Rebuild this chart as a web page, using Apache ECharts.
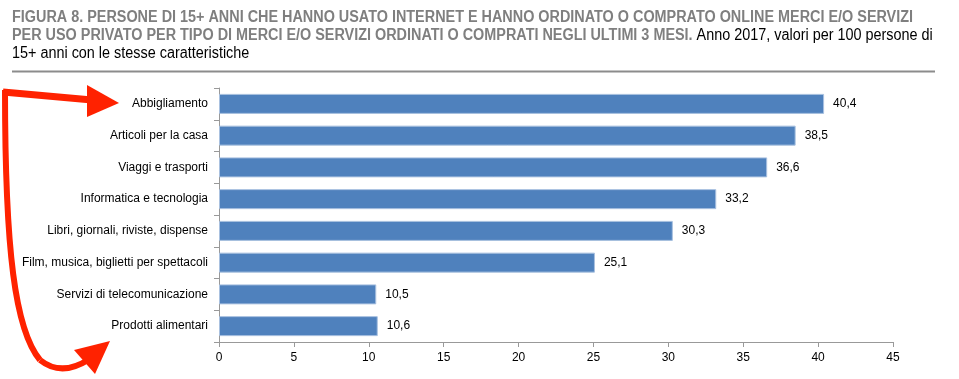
<!DOCTYPE html>
<html><head><meta charset="utf-8">
<script src="https://cdn.jsdelivr.net/npm/echarts@6/dist/echarts.min.js"></script>
<style>html,body{margin:0;padding:0;background:#fff}#c{width:959px;height:379px}</style>
</head><body><div id="c"></div>
<script>
const categories = ["Abbigliamento","Articoli per la casa","Viaggi e trasporti","Informatica e tecnologia","Libri, giornali, riviste, dispense","Film, musica, biglietti per spettacoli","Servizi di telecomunicazione","Prodotti alimentari"];
const values = [40.4, 38.5, 36.6, 33.2, 30.3, 25.1, 10.5, 10.6];
const axisMin = 0, axisMax = 45, axisStep = 5;
const titleBold1 = "FIGURA 8. PERSONE DI 15+ ANNI CHE HANNO USATO INTERNET E HANNO ORDINATO O COMPRATO ONLINE MERCI E/O SERVIZI";
const titleBold2 = "PER USO PRIVATO PER TIPO DI MERCI E/O SERVIZI ORDINATI O COMPRATI NEGLI ULTIMI 3 MESI.";
const titleNorm2 = " Anno 2017, valori per 100 persone di";
const titleNorm3 = "15+ anni con le stesse caratteristiche";

const F = '"Liberation Sans", Arial, sans-serif';
const chart = echarts.init(document.getElementById('c'));
const red = '#ff2200';
chart.setOption({
  animation: false,
  grid: {left: 219, right: 66, top: 88, bottom: 37, containLabel: false},
  xAxis: {
    type: 'value', min: axisMin, max: axisMax, interval: axisStep,
    splitLine: {show: false},
    axisLine: {show: true, lineStyle: {color: '#999', width: 1}},
    axisTick: {show: true, length: 5, lineStyle: {color: '#999'}},
    axisLabel: {color: '#000', fontFamily: F, fontSize: 12, margin: 10}
  },
  yAxis: {
    type: 'category', data: categories, inverse: true,
    axisLine: {show: true, lineStyle: {color: '#999', width: 1}},
    axisTick: {show: true, length: 5, alignWithLabel: false, lineStyle: {color: '#999'}},
    axisLabel: {color: '#000', fontFamily: F, fontSize: 12, margin: 11}
  },
  series: [{
    type: 'bar', data: values, barWidth: 20,
    itemStyle: {color: '#4f81bd', borderColor: '#a9c1e0', borderWidth: 1},
    label: {show: true, position: 'right', distance: 9, color: '#000', fontFamily: F, fontSize: 12,
      formatter: p => String(p.value.toFixed(1)).replace('.', ',')}
  }],
  graphic: [
    {type: 'text', x: 12, y: 9, scaleX: 0.9, style: {
      text: '{b|' + titleBold1 + '}\n{b|' + titleBold2 + '}{n|' + titleNorm2 + '}\n{n|' + titleNorm3 + '}',
      rich: {
        b: {fontFamily: F, fontWeight: 'bold', fontSize: 16, fill: '#7f7f7f', lineHeight: 18},
        n: {fontFamily: F, fontSize: 16, fill: '#000', lineHeight: 18}
      }
    }},
    {type: 'line', shape: {x1: 12, y1: 71.5, x2: 935, y2: 71.5}, style: {stroke: '#8c8c8c', lineWidth: 2}},
    {type: 'line', shape: {x1: 3, y1: 92, x2: 92, y2: 100}, style: {stroke: red, lineWidth: 7}},
    {type: 'polygon', shape: {points: [[87, 85], [119, 103], [87, 117]]}, style: {fill: red}},
    {type: 'bezierCurve', shape: {x1: 5, y1: 90, cpx1: 5, cpy1: 250, cpx2: 15, cpy2: 330, x2: 40, y2: 360}, style: {stroke: red, lineWidth: 6, fill: null}},
    {type: 'bezierCurve', shape: {x1: 40, y1: 360, cpx1: 55, cpy1: 372, cpx2: 72, cpy2: 370, x2: 88, y2: 360}, style: {stroke: red, lineWidth: 6, fill: null}},
    {type: 'polygon', shape: {points: [[74, 350], [110, 341], [95, 374]]}, style: {fill: red}}
  ]
});
</script></body></html>
